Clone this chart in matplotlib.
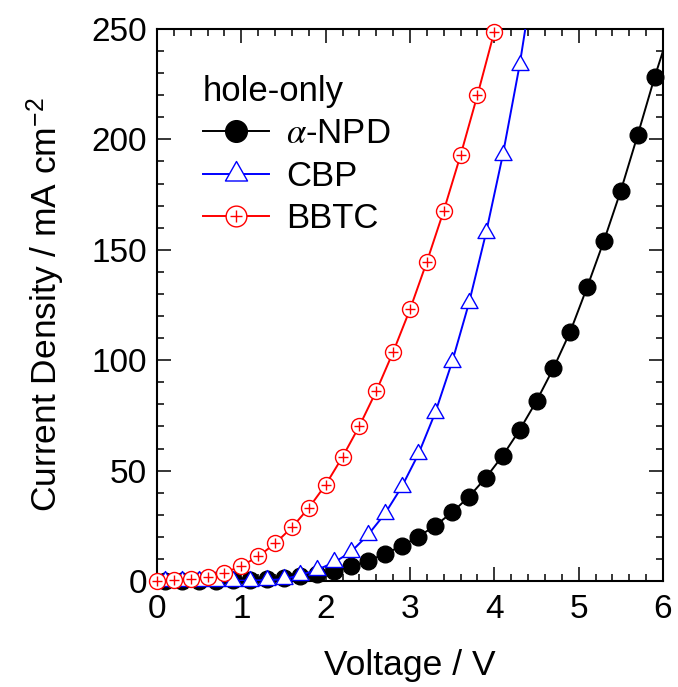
import matplotlib
matplotlib.use("Agg")
import matplotlib.pyplot as plt
from matplotlib.lines import Line2D
from matplotlib.path import Path
from matplotlib.ticker import MultipleLocator

plt.rcParams['font.family'] = ['Liberation Sans', 'DejaVu Sans']
plt.rcParams['mathtext.fontset'] = 'stix'

# ---- data ----
npd_v = [0.1, 0.3, 0.5, 0.7, 0.9, 1.1, 1.3, 1.5, 1.7, 1.9, 2.1, 2.3, 2.5, 2.7, 2.9,
         3.1, 3.3, 3.5, 3.7, 3.9, 4.1, 4.3, 4.5, 4.7, 4.9, 5.1, 5.3, 5.5, 5.7, 5.9]
npd_j = [0.0, 0.0, 0.05, 0.15, 0.3, 0.5, 0.9, 1.4, 2.1, 3.0, 4.7, 6.8, 9.0, 12.3, 15.8,
         20.1, 25.1, 31.1, 38.2, 46.8, 56.8, 68.4, 81.5, 96.3, 112.9, 133.0, 154.1, 176.8, 202.0, 228.1]
npd_end_v = 6.0
npd_end_j = 240.0

cbp_v = [0.1, 0.3, 0.5, 0.7, 0.9, 1.1, 1.3, 1.5, 1.7, 1.9, 2.1, 2.3, 2.5, 2.7, 2.9,
         3.1, 3.3, 3.5, 3.7, 3.9, 4.1, 4.3]
cbp_j = [0.0, 0.0, 0.0, 0.05, 0.1, 0.2, 0.4, 0.8, 2.7, 5.1, 8.4, 13.2, 20.8, 30.3, 42.5,
         57.5, 76.3, 99.3, 126.0, 157.4, 192.9, 233.7]
cbp_end_v = 4.4
cbp_end_j = 258.0

bbtc_v = [0.0, 0.2, 0.4, 0.6, 0.8, 1.0, 1.2, 1.4, 1.6, 1.8, 2.0, 2.2, 2.4, 2.6, 2.8,
          3.0, 3.2, 3.4, 3.6, 3.8, 4.0]
bbtc_j = [0.0, 0.4, 0.9, 1.8, 3.7, 6.8, 11.1, 17.0, 24.3, 33.1, 43.6, 56.2, 70.2, 86.0, 103.7,
          123.0, 144.6, 167.7, 192.9, 220.1, 248.8]

labels = [r"$\alpha$-NPD", "CBP", "BBTC"]
legend_title = "hole-only"
xlabel = "Voltage / V"
ylabel = r"Current Density / mA cm$^{\mathregular{-2}}$"

# ---- figure ----
W, H = 678, 687
fig = plt.figure(figsize=(W / 100, H / 100), dpi=100)
ax = fig.add_axes([157 / W, 1 - 581 / H, 506 / W, 552 / H])

tri = Path([(0, 10), (-8.5, -5), (8.5, -5), (0, 10)],
           [Path.MOVETO, Path.LINETO, Path.LINETO, Path.CLOSEPOLY])

lw = 1.4
# alpha-NPD
ax.plot(npd_v + [npd_end_v], npd_j + [npd_end_j], '-', color='black', lw=lw, zorder=2)
ax.plot(npd_v, npd_j, 'o', color='black', ms=12, zorder=2.1, clip_on=False)
# CBP
ax.plot(cbp_v + [cbp_end_v], cbp_j + [cbp_end_j], '-', color='#0000ff', lw=lw, zorder=3)
ax.plot(cbp_v, cbp_j, ls='none', marker=tri, ms=14.4, mfc='white', mec='#0000ff',
        mew=1.0, zorder=3.1, clip_on=False)
# BBTC
ax.plot(bbtc_v, bbtc_j, '-', color='#ff0000', lw=lw, zorder=4)
ax.plot(bbtc_v, bbtc_j, 'o', ms=11.5, mfc='white', mec='#ff0000', mew=1.0,
        zorder=4.1, clip_on=False)
ax.plot(bbtc_v, bbtc_j, '+', ms=7, color='#ff0000', mew=1.0, zorder=4.2, clip_on=False)

ax.set_xlim(0, 6)
ax.set_ylim(0, 250)
ax.xaxis.set_major_locator(MultipleLocator(1))
ax.xaxis.set_minor_locator(MultipleLocator(0.2))
ax.yaxis.set_major_locator(MultipleLocator(50))
ax.yaxis.set_minor_locator(MultipleLocator(10))
ax.tick_params(which='both', direction='in', top=True, right=True, width=1.1, labelsize=24)
ax.tick_params(which='major', length=10)
ax.tick_params(which='minor', length=5)
ax.tick_params(axis='x', pad=9)
ax.tick_params(axis='y', pad=7)
for s in ax.spines.values():
    s.set_linewidth(1.5)

ax.set_xlabel(xlabel, fontsize=25.5, labelpad=18)
ax.set_ylabel(ylabel, fontsize=25.5, labelpad=18)

h1 = Line2D([], [], color='black', lw=lw, marker='o', ms=12)
h2 = Line2D([], [], color='#0000ff', lw=lw, marker=tri, ms=14.4, mfc='white', mec='#0000ff', mew=1.0)
h3a = Line2D([], [], color='#ff0000', lw=lw, marker='o', ms=11.5, mfc='white', mec='#ff0000', mew=1.0)
h3b = Line2D([], [], ls='none', marker='+', ms=7, color='#ff0000', mew=1.0)
leg = ax.legend([h1, h2, (h3a, h3b)], labels, title=legend_title, title_fontsize=25,
                fontsize=25, frameon=False, loc='upper left',
                bbox_to_anchor=((203 - 157) / 506, (581 - 75) / 552),
                handlelength=1.9, handletextpad=0.5, labelspacing=0.27,
                borderpad=0, borderaxespad=0, markerscale=1.3, alignment='left')

fig.savefig("out.png", dpi=100)
